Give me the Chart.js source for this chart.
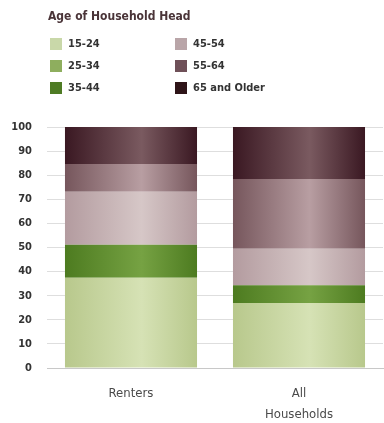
<!DOCTYPE html>
<html>
<head>
<meta charset="utf-8">
<script src="https://cdn.jsdelivr.net/npm/chart.js@4/dist/chart.umd.min.js"></script>
<style>
  html, body { margin: 0; padding: 0; background: #fff; }
  body { width: 384px; height: 423px; position: relative; overflow: hidden;
         font-family: "DejaVu Sans Condensed", "Liberation Sans", Arial, sans-serif; }
  #wrap { position: absolute; left: 0; top: 0; width: 384px; height: 423px; }
  #legend { position: absolute; left: 0; top: 0; width: 384px; height: 110px; }
  #ltitle { position: absolute; left: 48px; top: 9px; font-size: 12px; font-weight: bold; color: #4a3438; }
  .item { position: absolute; font-size: 11px; font-weight: bold; color: #333; height: 12px; line-height: 12px; }
  .sw { display: inline-block; width: 12px; height: 12px; vertical-align: top; margin-right: 6px; }
</style>
</head>
<body>
<div id="wrap"><canvas id="c" width="384" height="423"></canvas></div>
<div id="legend"><div id="ltitle">Age of Household Head</div></div>
<script>
const categories = ["Renters", ["All", "Households"]];
const seriesNames = ["15-24", "25-34", "35-44", "45-54", "55-64", "65 and Older"];
const age15to24 = [37.5, 27];
const age25to34 = [0, 0];
const age35to44 = [13.6, 7.3];
const age45to54 = [22, 15.2];
const age55to64 = [11.5, 28.9];
const age65plus = [15.4, 21.6];
const yTicks = [0, 10, 20, 30, 40, 50, 60, 70, 80, 90, 100];

const seriesValues = [age15to24, age25to34, age35to44, age45to54, age55to64, age65plus];
const edgeColors   = ["#b8c88c", "#86a656", "#4d7b20", "#b39b9f", "#76565c", "#3a1822"];
const centerColors = ["#d6e2b5", "#a8c47c", "#76a243", "#d6c7c7", "#b89ea2", "#7a5a60"];
const swatchColors = ["#c9d8a9", "#8eae5e", "#4e7b24", "#b9a5a8", "#6f5058", "#2e1418"];

const FONT = '"DejaVu Sans Condensed", "Liberation Sans", Arial, sans-serif';

// HTML legend, two columns, column-major
const legend = document.getElementById('legend');
seriesNames.forEach((n, i) => {
  const col = Math.floor(i / 3), row = i % 3;
  const d = document.createElement('div');
  d.className = 'item';
  d.style.left = (col === 0 ? 50 : 175) + 'px';
  d.style.top = (38 + row * 22) + 'px';
  const s = document.createElement('span');
  s.className = 'sw';
  s.style.background = swatchColors[i];
  d.appendChild(s);
  d.appendChild(document.createTextNode(n));
  legend.appendChild(d);
});

const BAR_FRAC = 0.786;
function gradFor(i) {
  return function(ctx) {
    const chart = ctx.chart;
    const xs = chart.scales && chart.scales.x;
    if (!chart.chartArea || !xs || ctx.dataIndex === undefined) return centerColors[i];
    const center = xs.getPixelForValue(ctx.dataIndex);
    const w = xs.width / categories.length * BAR_FRAC;
    const g = chart.ctx.createLinearGradient(center - w / 2, 0, center + w / 2, 0);
    g.addColorStop(0, edgeColors[i]);
    g.addColorStop(0.58, centerColors[i]);
    g.addColorStop(1, edgeColors[i]);
    return g;
  };
}

const datasets = seriesNames.map((n, i) => ({
  label: n,
  data: seriesValues[i],
  backgroundColor: gradFor(i),
  borderWidth: 0,
  categoryPercentage: 1,
  barPercentage: BAR_FRAC
}));

new Chart(document.getElementById('c'), {
  type: 'bar',
  data: { labels: categories, datasets },
  options: {
    responsive: false,
    animation: false,
    layout: { padding: { top: 127, right: 1, left: 0, bottom: 0 } },
    plugins: { legend: { display: false }, tooltip: { enabled: false } },
    scales: {
      x: {
        stacked: true,
        afterFit: (s) => { s.height = 55; },
        grid: { display: false, drawTicks: false },
        border: { display: true, color: '#c8c8c8' },
        ticks: {
          padding: 15,
          color: '#4a4a4a',
          font: { family: FONT, size: 13, lineHeight: '21px' }
        }
      },
      y: {
        stacked: true,
        min: 0, max: 100,
        afterFit: (s) => { s.width = 47; },
        afterBuildTicks: (s) => { s.ticks = yTicks.map(v => ({ value: v })); },
        grid: { color: '#dedede', drawTicks: false },
        border: { display: false },
        ticks: {
          padding: 15,
          color: '#333',
          font: { family: FONT, size: 11, weight: 'bold' }
        }
      }
    }
  }
});
</script>
</body>
</html>
